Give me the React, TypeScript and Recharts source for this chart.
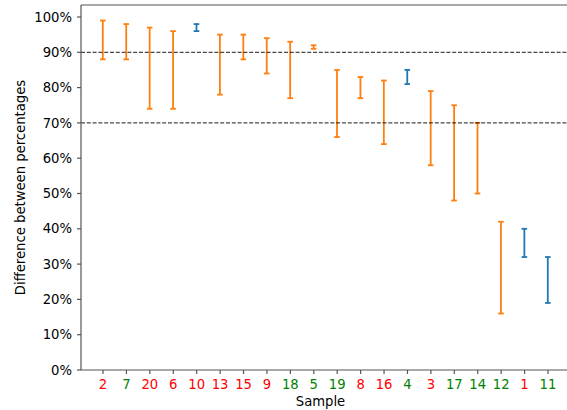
import React from "react";
import {
    BarChart,
    Bar,
    XAxis,
    YAxis,
    ReferenceLine,
    Label
} from "recharts";

const samples = ["2", "7", "20", "6", "10", "13", "15", "9", "18", "5", "19", "8", "16", "4", "3", "17", "14", "12", "1", "11"];
const highs = [99, 98, 97, 96, 98, 95, 95, 94, 93, 92, 85, 83, 82, 85, 79, 75, 70, 42, 40, 32];
const lows = [88, 88, 74, 74, 96, 78, 88, 84, 77, 91, 66, 77, 64, 81, 58, 48, 50, 16, 32, 19];
// "o" = orange series, "b" = blue series
const groups = ["o", "o", "o", "o", "b", "o", "o", "o", "o", "o", "o", "o", "o", "b", "o", "o", "o", "o", "b", "b"];
// "r" = red label, "g" = green label
const labelColors = ["r", "g", "r", "r", "r", "r", "r", "r", "g", "g", "g", "r", "r", "g", "r", "g", "g", "g", "r", "g"];
const yTicks = [0, 10, 20, 30, 40, 50, 60, 70, 80, 90, 100];
const thresholds = [70, 90];

const ORANGE = "#ff7f0e";
const BLUE = "#1f77b4";
const FONT = "'DejaVu Sans', sans-serif";
const FS = 13.2;
const AXIS = "#555";

const data = samples.map((s, i) => ({
    sample: s,
    range: [lows[i], highs[i]],
    group: groups[i],
    labelColor: labelColors[i] === "r" ? "#ff0000" : "#008000"
}));

function ErrorShape(props: any) {
    const { x, y, width, height, payload } = props;
    const cx = x + width / 2;
    const top = Math.min(y, y + height);
    const bottom = Math.max(y, y + height);
    const color = payload.group === "b" ? BLUE : ORANGE;
    const cap = 2.8;
    return (
        <g stroke={color} strokeWidth={1.8}>
            <line x1={cx} x2={cx} y1={top} y2={bottom} />
            <line x1={cx - cap} x2={cx + cap} y1={top} y2={top} />
            <line x1={cx - cap} x2={cx + cap} y1={bottom} y2={bottom} />
        </g>
    );
}

function SampleTick(props: any) {
    const { x, y, payload, index } = props;
    return (
        <text x={x} y={y} dy="0.71em" textAnchor="middle" fontFamily={FONT} fontSize={FS} fill={data[index]?.labelColor ?? "#000"}>
            {payload.value}
        </text>
    );
}

export default function App() {
    return (
        <div style={{ position: "absolute", left: 0, top: 0, width: 567, height: 410, overflow: "hidden", background: "#fff" }}>
            <BarChart
                width={580}
                height={410}
                data={data}
                margin={{ top: 5, right: 10, bottom: 0, left: 0 }}
                barCategoryGap={0}
            >
                <XAxis
                    dataKey="sample"
                    height={40}
                    padding={{ left: 10.3, right: 10.3 }}
                    stroke={AXIS}
                    strokeWidth={1.2}
                    tickSize={4}
                    tickMargin={6}
                    tick={<SampleTick />}
                    interval={0}
                >
                    <Label
                        content={(p: any) => {
                            const vb = p.viewBox;
                            return (
                                <text x={vb.x + vb.width / 2 - 5} y={406} textAnchor="middle" fontFamily={FONT} fontSize={FS} fill="#000">
                                    Sample
                                </text>
                            );
                        }}
                    />
                </XAxis>
                <YAxis
                    width={81}
                    domain={[0, 103.4]}
                    allowDataOverflow
                    ticks={yTicks}
                    tickFormatter={(v: number) => `${v}%`}
                    stroke={AXIS}
                    strokeWidth={1.2}
                    tickSize={4}
                    tickMargin={5}
                    tick={{ fill: "#000", fontFamily: FONT, fontSize: FS }}
                    interval={0}
                >
                    <Label
                        content={(p: any) => {
                            const vb = p.viewBox;
                            const cy = vb.y + vb.height / 2;
                            return (
                                <text x={20} y={cy} transform={`rotate(-90, 20, ${cy})`} dy="0.35em" textAnchor="middle" fontFamily={FONT} fontSize={FS} fill="#000">
                                    Difference between percentages
                                </text>
                            );
                        }}
                    />
                </YAxis>
                <ReferenceLine y={103.4} stroke={AXIS} strokeWidth={1.2} ifOverflow="extendDomain" />
                {thresholds.map(t => (
                    <ReferenceLine key={t} y={t} stroke="#000" strokeWidth={0.9} strokeDasharray="4 1.8" />
                ))}
                <Bar dataKey="range" shape={<ErrorShape />} isAnimationActive={false} />
            </BarChart>
        </div>
    );
}
